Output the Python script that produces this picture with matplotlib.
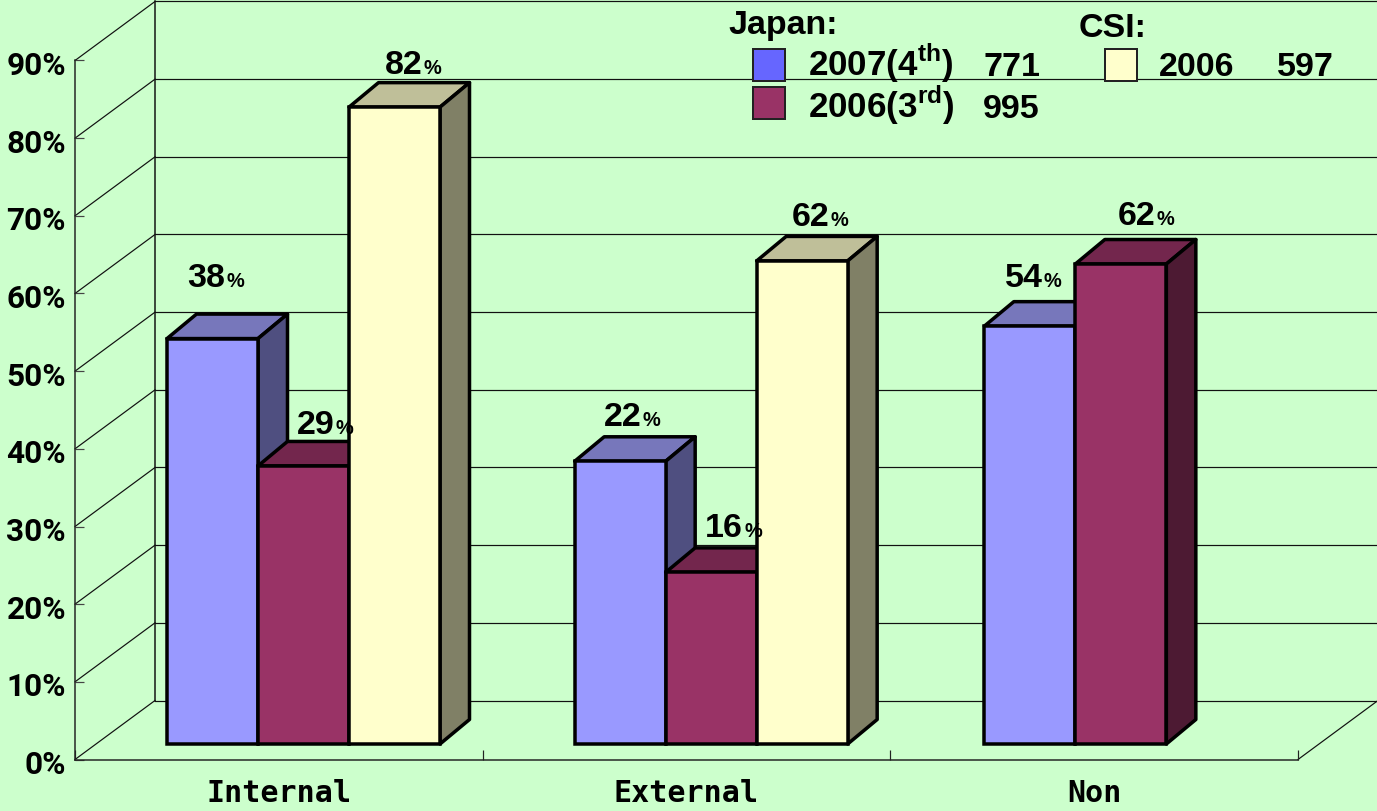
import numpy as np
from matplotlib import pyplot as plt
from matplotlib.patches import Polygon, Rectangle
from matplotlib.transforms import ScaledTranslation

categories = ['Internal', 'External', 'Non']
percent_ticks = [0, 10, 20, 30, 40, 50, 60, 70, 80, 90]

# Drawn bar heights (the printed labels do not match the heights in the original)
japan_2007 = [52.2, 36.4, 53.8]
japan_2006 = [35.8, 22.1, 61.8]
csi_2006 = [82.0, 62.2, None]

# Printed data labels
japan_2007_labels = ['38', '22', '54']
japan_2006_labels = ['29', '16', '62']
csi_2006_labels = ['82', '62', None]

W, H = 1377, 811
BG = '#CCFFCC'

plt.rcParams['font.family'] = ['Liberation Sans']
plt.rcParams['font.weight'] = 'bold'
plt.rcParams['mathtext.fontset'] = 'custom'
plt.rcParams['mathtext.bf'] = 'Liberation Sans:bold'
plt.rcParams['mathtext.rm'] = 'Liberation Sans:bold'


def pt(px):
    return px * 0.72


fig = plt.figure(figsize=(W / 100, H / 100), dpi=100, facecolor=BG)
# Front plane of the 3D box: x 75..1298, y 60.5..759.5 in pixels
ax = fig.add_axes([75 / W, 1 - 759.5 / H, 1223 / W, 699 / H], facecolor='none')
ax.set_xlim(0, 3)
ax.set_ylim(0, 90)

xu = 3 / 1223  # data units per pixel
yu = 90 / 699

# Back wall offset and bar depth
wall_dx, wall_dy = 80 * xu, 59 * yu
bar_dx, bar_dy = 29.5 * xu, 24.5 * yu
bar_w = 91 * xu
bar_start = 92 * xu
bar_floor = 15.5 * yu
group_shift = [0, 0, 2 * xu]

for s in ['top', 'right']:
    ax.spines[s].set_visible(False)
for s in ['left', 'bottom']:
    ax.spines[s].set_linewidth(pt(1.5))
    ax.spines[s].set_color('#222222')

# Walls and gridlines
for t in percent_ticks:
    ax.plot([0, wall_dx], [t, t + wall_dy], color='#111111', lw=pt(1.2), clip_on=False, zorder=1)
    ax.plot([wall_dx, 3 + 2 * wall_dx], [t + wall_dy, t + wall_dy], color='#111111',
            lw=pt(1.2), clip_on=False, zorder=1)
ax.plot([wall_dx, wall_dx], [wall_dy, 90 + wall_dy], color='#111111', lw=pt(1.5), clip_on=False, zorder=1)
ax.plot([3, 3 + wall_dx], [0, wall_dy], color='#111111', lw=pt(1.2), clip_on=False, zorder=1)

series = [
    (japan_2007, japan_2007_labels, '#9999FF', '#7777BB', '#4F4F80'),
    (japan_2006, japan_2006_labels, '#993366', '#73264D', '#4D1A33'),
    (csi_2006, csi_2006_labels, '#FFFFCC', '#BFBF99', '#808066'),
]

z = 3
for i in range(len(categories)):
    for j, (vals, labs, face, top, side) in enumerate(series):
        v = vals[i]
        if v is None:
            continue
        x0 = i + bar_start + group_shift[i] + j * bar_w
        x1 = x0 + bar_w
        y1 = bar_floor + v
        lw = pt(3.5)
        ax.add_patch(Polygon([(x0, y1), (x1, y1), (x1 + bar_dx, y1 + bar_dy), (x0 + bar_dx, y1 + bar_dy)],
                             fc=top, ec='black', lw=lw, joinstyle='round', clip_on=False, zorder=z))
        ax.add_patch(Polygon([(x1, bar_floor), (x1 + bar_dx, bar_floor + bar_dy),
                              (x1 + bar_dx, y1 + bar_dy), (x1, y1)],
                             fc=side, ec='black', lw=lw, joinstyle='round', clip_on=False, zorder=z))
        ax.bar(x0, v, width=bar_w, bottom=bar_floor, align='edge', color=face,
               edgecolor='black', linewidth=lw, clip_on=False, zorder=z + 0.5)
        z += 1

# Label offsets from the centre of the bar top, in pixels (right end of the number, baseline)
label_off = {
    (0, 0): (13, 52), (0, 1): (31, 32), (0, 2): (28, 33),
    (1, 0): (21, 35), (1, 1): (32, 35), (1, 2): (27, 35),
    (2, 0): (13, 39), (2, 1): (35, 39),
}
for i in range(len(categories)):
    for j, (vals, labs, face, top, side) in enumerate(series):
        if vals[i] is None:
            continue
        xc = i + bar_start + group_shift[i] + (j + 0.5) * bar_w
        yt = bar_floor + vals[i]
        ox, oy = label_off[(i, j)]
        ax.text(xc + ox * xu, yt + oy * yu, labs[i], ha='right', va='baseline',
                fontsize=pt(34), fontweight='bold', zorder=50)
        ax.text(xc + (ox + 1) * xu, yt + oy * yu, '%', ha='left', va='baseline',
                fontsize=pt(20), fontweight='bold', zorder=50)

# Axes ticks and labels
ax.set_yticks(percent_ticks)
ax.set_yticklabels(['%d%%' % t for t in percent_ticks], family='Roboto',
                   fontsize=pt(31.5), fontweight='bold', va='center')
ax.tick_params(axis='y', direction='in', length=pt(9), width=pt(1.2), color='#444444', pad=pt(9))
shift_down = ScaledTranslation(0, -5.5 / 100, fig.dpi_scale_trans)
for lab in ax.get_yticklabels():
    lab.set_transform(lab.get_transform() + shift_down)
ax.set_xticks([0, 1, 2, 3])
ax.set_xticklabels([])
ax.tick_params(axis='x', which='major', direction='in', length=pt(10), width=pt(1.2), color='#222222')
ax.set_xticks([0.5, 1.5, 2.5], minor=True)
ax.set_xticklabels(categories, minor=True, family='DejaVu Sans Mono', fontsize=pt(30), fontweight='bold')
ax.tick_params(axis='x', which='minor', length=0, pad=pt(19))


# Legend, placed by figure pixels like the original text boxes
def ftext(x, y, s, size=34):
    fig.text(x / W, 1 - y / H, s, fontsize=pt(size), fontweight='bold', ha='left', va='baseline', zorder=60)


def swatch(x, y, c):
    fig.add_artist(Rectangle((x / W, 1 - (y + 32) / H), 32 / W, 32 / H, transform=fig.transFigure,
                             fc=c, ec='#222222', lw=pt(2), zorder=60))


ftext(728, 34, 'Japan:')
ftext(1079, 37, 'CSI:')
swatch(753, 49, '#6666FF')
swatch(753, 87, '#993366')
swatch(1105, 49, '#FFFFCC')
ftext(808, 76, r'2007(4$^{\mathbf{th}}$)', 35)
ftext(983, 76, '771')
ftext(1159, 76, '2006')
ftext(1277, 76, '597')
ftext(808, 118, r'2006(3$^{\mathbf{rd}}$)', 35)
ftext(983, 118, '995')

fig.savefig('out.png', dpi=100, facecolor=BG)
